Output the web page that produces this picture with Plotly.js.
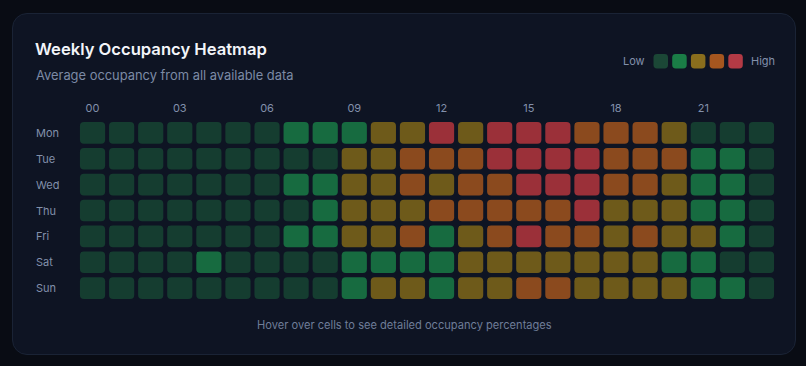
<!DOCTYPE html>
<html>
<head>
<meta charset="utf-8">
<script src="https://cdn.plot.ly/plotly-3.0.1.min.js"></script>
<style>
  html, body { margin: 0; padding: 0; background: #090c14; width: 806px; height: 366px; overflow: hidden; }
  #card { position: absolute; left: 12px; top: 13px; width: 782px; height: 340px; background: #0e1423; border: 1px solid #1a2335; border-radius: 15px; box-sizing: content-box; }
  #chart { position: absolute; left: 0; top: 0; width: 806px; height: 366px; }
</style>
</head>
<body>
<div id="card"></div>
<div id="chart"></div>
<script>
// ---- data ----
var days = ["Mon", "Tue", "Wed", "Thu", "Fri", "Sat", "Sun"];
var hours = [0,1,2,3,4,5,6,7,8,9,10,11,12,13,14,15,16,17,18,19,20,21,22,23];
var hourTickVals = [0, 3, 6, 9, 12, 15, 18, 21];
var hourTickText = ["00", "03", "06", "09", "12", "15", "18", "21"];
var mon = [8,6,5,5,6,9,14,32,36,38,48,52,84,55,86,88,85,72,68,65,52,18,14,10];
var tue = [7,5,4,4,5,8,15,18,19,46,52,64,66,70,83,87,86,82,74,70,64,34,30,15];
var wed = [8,6,5,4,5,9,16,30,35,50,55,66,58,68,72,84,88,82,70,66,55,32,36,14];
var thu = [7,5,5,4,6,8,14,19,33,48,52,56,64,68,70,72,74,82,56,54,50,34,32,12];
var fri = [9,6,5,5,6,10,17,31,37,50,56,64,36,56,72,85,74,70,58,64,54,42,30,16];
var sat = [12,9,7,6,22,8,10,14,17,30,34,36,32,45,48,50,52,50,48,46,34,28,18,14];
var sun = [13,10,8,7,6,7,9,12,16,28,44,46,34,48,50,62,64,52,50,48,44,32,26,14];
var levelColors = ["#153d30", "#176b40", "#6e5a1a", "#8b4a1e", "#9b3039"];
var legendColors = ["#1b4736", "#1a7d46", "#8a6e1d", "#a5561f", "#b33a45"];

// ---- build ----
var z = [mon, tue, wed, thu, fri, sat, sun];
var W = 806, H = 366;
var plotL = 78, plotR = 776, plotT = 119.6, plotB = 301.1;
function px(x) { return (x - plotL) / (plotR - plotL); }
function py(y) { return (plotB - y) / (plotB - plotT); }
function levelOf(v) { return Math.min(4, Math.floor(v / 20)); }

var cs = [];
for (var i = 0; i < 5; i++) {
  cs.push([i / 5, levelColors[i]]);
  cs.push([(i + 1) / 5, levelColors[i]]);
}

var custom = z.map(function (row, r) { return row.map(function () { return days[r]; }); });
var heat = {
  type: "heatmap",
  x: hours,
  y: days.map(function (d, i) { return i; }),
  z: z,
  customdata: custom,
  zmin: 0, zmax: 100,
  colorscale: cs,
  showscale: false,
  xgap: 7, ygap: 7,
  hovertemplate: "%{customdata} %{x}:00<br>Occupancy: %{z}%<extra></extra>"
};

// rounded cells on top of heatmap, in data coordinates
var shapes = [];
var pitchX = (plotR - plotL) / 24, pitchY = (plotB - plotT) / 7;
var hw = 12.6 / pitchX, hh = 10.85 / pitchY, rx = 4 / pitchX, ry = 4 / pitchY;
z.forEach(function (row, r) {
  row.forEach(function (v, c) {
    var x0 = hours[c] - hw, x1 = hours[c] + hw, y0 = r - hh, y1 = r + hh;
    var p = "M" + (x0 + rx) + "," + y0 + " L" + (x1 - rx) + "," + y0 +
      " Q" + x1 + "," + y0 + " " + x1 + "," + (y0 + ry) +
      " L" + x1 + "," + (y1 - ry) +
      " Q" + x1 + "," + y1 + " " + (x1 - rx) + "," + y1 +
      " L" + (x0 + rx) + "," + y1 +
      " Q" + x0 + "," + y1 + " " + x0 + "," + (y1 - ry) +
      " L" + x0 + "," + (y0 + ry) +
      " Q" + x0 + "," + y0 + " " + (x0 + rx) + "," + y0 + " Z";
    shapes.push({ type: "path", xref: "x", yref: "y", path: p, fillcolor: levelColors[levelOf(v)], line: { width: 0 }, layer: "above" });
  });
});

// legend swatches (paper coords)
var annotations = [];
var sw = 14.5, sx0 = 653.5, sstep = 18.7, sy0 = 53.5;
legendColors.forEach(function (col, i) {
  var a = px(sx0 + i * sstep), b = px(sx0 + i * sstep + sw);
  var top = py(sy0), bot = py(sy0 + sw);
  var r = 3.5 / (plotR - plotL), rv = 3.5 / (plotB - plotT);
  var p = "M" + (a + r) + "," + top + " L" + (b - r) + "," + top +
    " Q" + b + "," + top + " " + b + "," + (top - rv) +
    " L" + b + "," + (bot + rv) +
    " Q" + b + "," + bot + " " + (b - r) + "," + bot +
    " L" + (a + r) + "," + bot +
    " Q" + a + "," + bot + " " + a + "," + (bot + rv) +
    " L" + a + "," + (top - rv) +
    " Q" + a + "," + top + " " + (a + r) + "," + top + " Z";
  shapes.push({ type: "path", xref: "paper", yref: "paper", path: p, fillcolor: col, line: { width: 0 } });
});

var labelFont = { family: "Inter, sans-serif", size: 11, color: "#8290ab" };
annotations.push({ xref: "paper", yref: "paper", x: px(647), y: py(60.5), xanchor: "right", yanchor: "middle", text: "Low", showarrow: false, font: labelFont });
annotations.push({ xref: "paper", yref: "paper", x: px(749), y: py(60.5), xanchor: "left", yanchor: "middle", text: "High", showarrow: false, font: labelFont });
annotations.push({ xref: "paper", yref: "paper", x: px(34), y: py(75), xanchor: "left", yanchor: "middle", text: "Average occupancy from all available data", showarrow: false, font: { family: "Inter, sans-serif", size: 12.9, color: "#7c8aa5" } });
annotations.push({ xref: "paper", yref: "paper", x: px(404.5), y: py(325), xanchor: "center", yanchor: "middle", text: "Hover over cells to see detailed occupancy percentages", showarrow: false, font: { family: "Inter, sans-serif", size: 11.1, color: "#6f7d98" } });
days.forEach(function (d, i) {
  annotations.push({ xref: "paper", yref: "y", x: px(34), y: i, xanchor: "left", yanchor: "middle", text: d, showarrow: false, font: labelFont });
});

var layout = {
  width: W, height: H,
  paper_bgcolor: "rgba(0,0,0,0)",
  plot_bgcolor: "rgba(0,0,0,0)",
  margin: { l: plotL, r: W - plotR, t: plotT, b: H - plotB, pad: 0 },
  title: { text: "Weekly Occupancy Heatmap", xref: "container", yref: "container", x: 35 / W, y: 1 - 49.5 / H, xanchor: "left", yanchor: "middle", font: { family: "Inter, sans-serif", size: 16.6, weight: 600, color: "#f3f5f9" } },
  xaxis: { range: [-0.5, 23.5], side: "top", tickvals: hourTickVals, ticktext: hourTickText, showgrid: false, zeroline: false, showline: false, ticks: "", ticklabelstandoff: 5, tickfont: labelFont, fixedrange: true },
  yaxis: { range: [6.5, -0.5], showticklabels: false, showgrid: false, zeroline: false, showline: false, ticks: "", fixedrange: true },
  shapes: shapes,
  annotations: annotations,
  showlegend: false,
  hoverlabel: { bgcolor: "#1a2233", bordercolor: "#2a3550", font: { family: "Inter, sans-serif", color: "#e5e9f0", size: 12 } }
};

Plotly.newPlot("chart", [heat], layout, { displayModeBar: false, responsive: false });
</script>
</body>
</html>
